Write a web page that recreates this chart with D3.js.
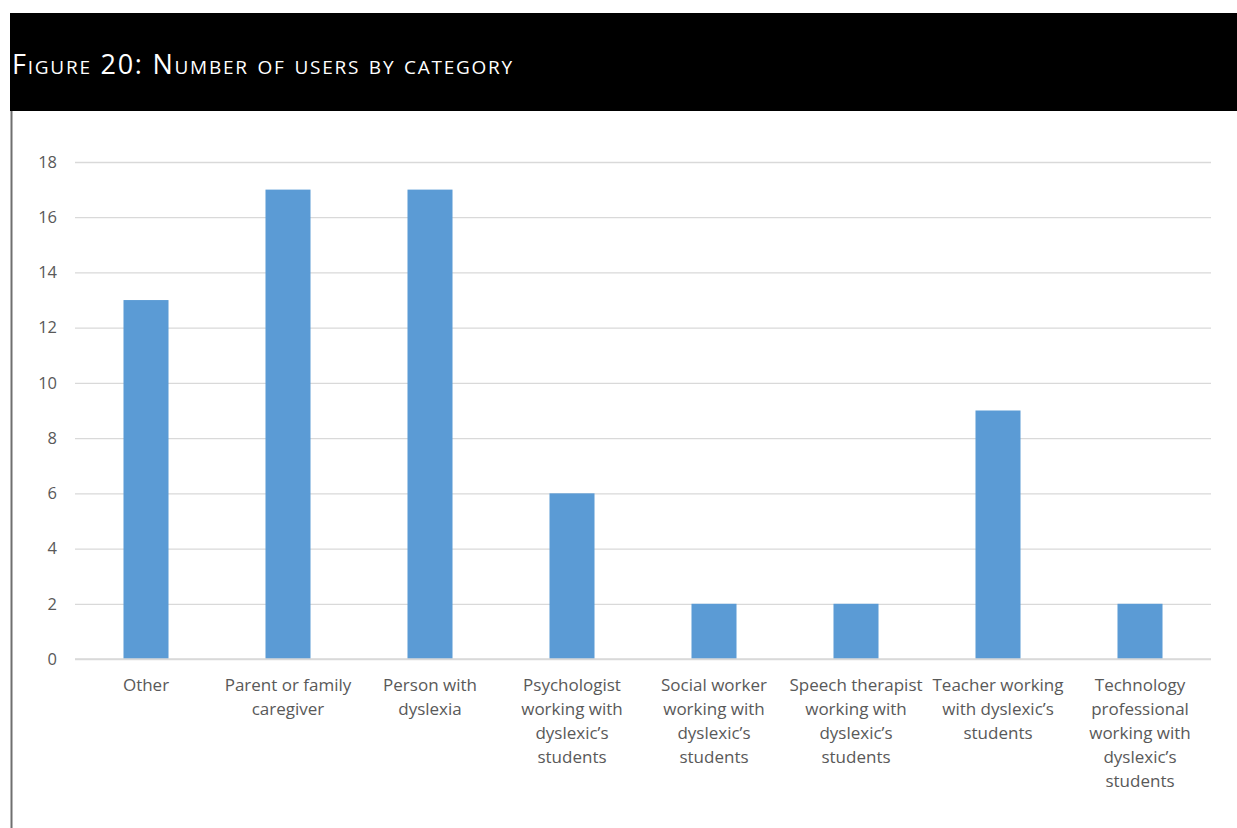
<!DOCTYPE html>
<html>
<head>
<meta charset="utf-8">
<script src="https://cdn.jsdelivr.net/npm/d3@7"></script>
<style>
  html, body { margin: 0; padding: 0; background: #fff; }
  svg { display: block; }
</style>
</head>
<body>
<svg id="chart" width="1237" height="828"></svg>
<script>
// Survey respondents per user category
const categories = [
  "Other",
  "Parent or family\ncaregiver",
  "Person with\ndyslexia",
  "Psychologist\nworking with\ndyslexic’s\nstudents",
  "Social worker\nworking with\ndyslexic’s\nstudents",
  "Speech therapist\nworking with\ndyslexic’s\nstudents",
  "Teacher working\nwith dyslexic’s\nstudents",
  "Technology\nprofessional\nworking with\ndyslexic’s\nstudents"
];
const users = [13, 17, 17, 6, 2, 2, 9, 2];
const yTicks = [0, 2, 4, 6, 8, 10, 12, 14, 16, 18];
const title = "Figure 20: Number of users by category";

const svg = d3.select("#chart");
const W = 1237, H = 828;
const font = "'Open Sans', Lato, sans-serif";

// Header band
svg.append("rect").attr("x", 10).attr("y", 13).attr("width", W - 10).attr("height", 98).attr("fill", "#000");
svg.append("text")
  .attr("x", 12).attr("y", 74)
  .attr("fill", "#fff")
  .style("font-family", font)
  .style("font-size", "27px")
  .style("letter-spacing", "1.75px")
  .style("font-variant", "small-caps")
  .text(title);

// Left frame rule
svg.append("line").attr("x1", 11.5).attr("x2", 11.5).attr("y1", 111).attr("y2", H)
  .attr("stroke", "#6f6f6f").attr("stroke-width", 2);

const plot = { left: 75, right: 1211, top: 162, bottom: 659 };

const x = d3.scaleBand().domain(categories).range([plot.left, plot.right]).paddingInner(0.683).paddingOuter(0.3415);
const y = d3.scaleLinear().domain([0, 18]).range([plot.bottom, plot.top]);

// Gridlines and y labels
const yAxis = d3.axisLeft(y).tickValues(yTicks).tickSize(-(plot.right - plot.left)).tickPadding(18);
const gy = svg.append("g").attr("transform", `translate(${plot.left},0)`).call(yAxis);
gy.select(".domain").remove();
gy.selectAll(".tick line").attr("stroke", "#d9d9d9").attr("stroke-width", 1.3);
gy.selectAll(".tick text")
  .attr("fill", "#595959")
  .style("font-family", font)
  .style("font-size", "16.5px");

// Bars
svg.append("g").selectAll("rect").data(categories).join("rect")
  .attr("x", d => x(d))
  .attr("width", x.bandwidth())
  .attr("y", (d, i) => y(users[i]))
  .attr("height", (d, i) => y(0) - y(users[i]))
  .attr("fill", "#5b9bd5");

// Baseline
svg.append("line").attr("x1", plot.left).attr("x2", plot.right)
  .attr("y1", y(0)).attr("y2", y(0)).attr("stroke", "#d9d9d9").attr("stroke-width", 1.5);

// Category labels
const xAxis = d3.axisBottom(x).tickSize(0).tickFormat("");
const gx = svg.append("g").attr("transform", `translate(0,${plot.bottom})`).call(xAxis);
gx.select(".domain").remove();
gx.selectAll(".tick").each(function(d) {
  const t = d3.select(this).append("text")
    .attr("text-anchor", "middle")
    .attr("fill", "#595959")
    .style("font-family", font)
    .style("font-size", "17px");
  d.split("\n").forEach((line, i) => {
    t.append("tspan").attr("x", 0).attr("y", 32 + i * 24).text(line);
  });
});
</script>
</body>
</html>
